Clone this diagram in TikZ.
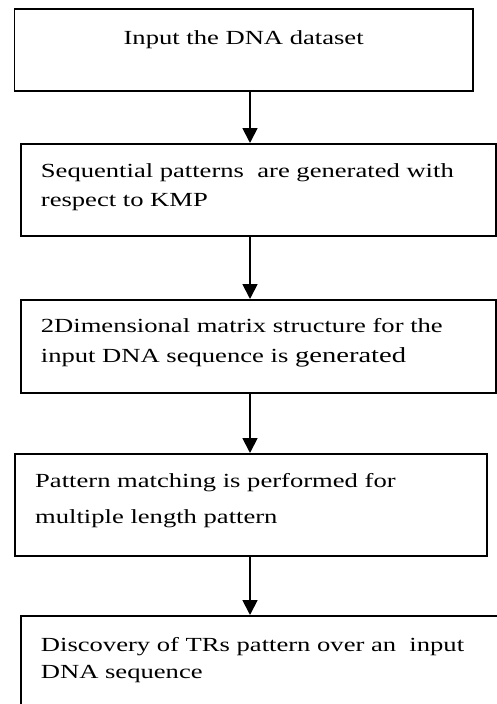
\documentclass[tikz,border=0pt]{standalone}
\usepackage{fontspec}
\setmainfont[FakeStretch=1.33]{Liberation Serif}
\usetikzlibrary{arrows.meta, positioning}

\begin{document}
\begin{tikzpicture}[
    x=1pt, y=-1pt,
    >=Triangle,
    % --- Styles ---
    stage/.style={
        rectangle, draw=black, line width=1.8pt,
        inner sep=0pt, anchor=north west
    },
    stagetext/.style={
        font=\fontsize{20}{#1}\selectfont,
        align=left, inner sep=0pt
    },
    arrow/.style={-{Triangle[width=15pt, length=15pt]}, line width=1.8pt, draw=black}
]

    \useasboundingbox (0,0) rectangle (497,704);
    \clip (0,0) rectangle (497,704);

    % ── NODES ───────────────────────────────────────────────────────────

    % Input
    \node (input) [stage, minimum width=458.5pt, minimum height=82pt] at (13.5,8) {};
    \node (inputtext) [stagetext=24, anchor=north, below=22.3pt of input.north]
        {Input the DNA dataset};

    % KMP patterns
    \node (kmp) [stage, minimum width=475pt, minimum height=92pt] at (20,143) {};
    \node (kmptext) [stagetext=29.4, below right=20.5pt and 20.7pt of kmp.north west]
        {Sequential patterns\ \ are generated with\\respect to KMP};

    % 2D matrix
    \node (matrix) [stage, minimum width=475pt, minimum height=93pt] at (20,299) {};
    \node (matrixtext) [stagetext=29.4, below right=19.5pt and 20.7pt of matrix.north west]
        {2Dimensional matrix structure for the\\input DNA sequence is {\fontsize{21.5}{29.4}\selectfont generated}};

    % Pattern matching
    \node (match) [stage, minimum width=472pt, minimum height=102pt] at (14,453) {};
    \node (matchtext) [stagetext=35.4, below right=20.5pt and 21pt of match.north west]
        {Pattern matching is performed for\\multiple length pattern};

    % Discovery (runs off the page)
    \node (trs) [stage, minimum width=500pt, minimum height=110pt] at (20,615) {};
    \node (trstext) [stagetext=27.6, below right=22pt and 20.7pt of trs.north west]
        {Discovery of TRs pattern over an\ \ input\\DNA sequence};

    % ── ARROWS ──────────────────────────────────────────────────────────

    \coordinate (axis) at (250,0);

    \draw [arrow] (input.south -| axis)  -- (kmp.north -| axis);
    \draw [arrow] (kmp.south -| axis)    -- (matrix.north -| axis);
    \draw [arrow] (matrix.south -| axis) -- (match.north -| axis);
    \draw [arrow] (match.south -| axis)  -- (trs.north -| axis);

\end{tikzpicture}
\end{document}
